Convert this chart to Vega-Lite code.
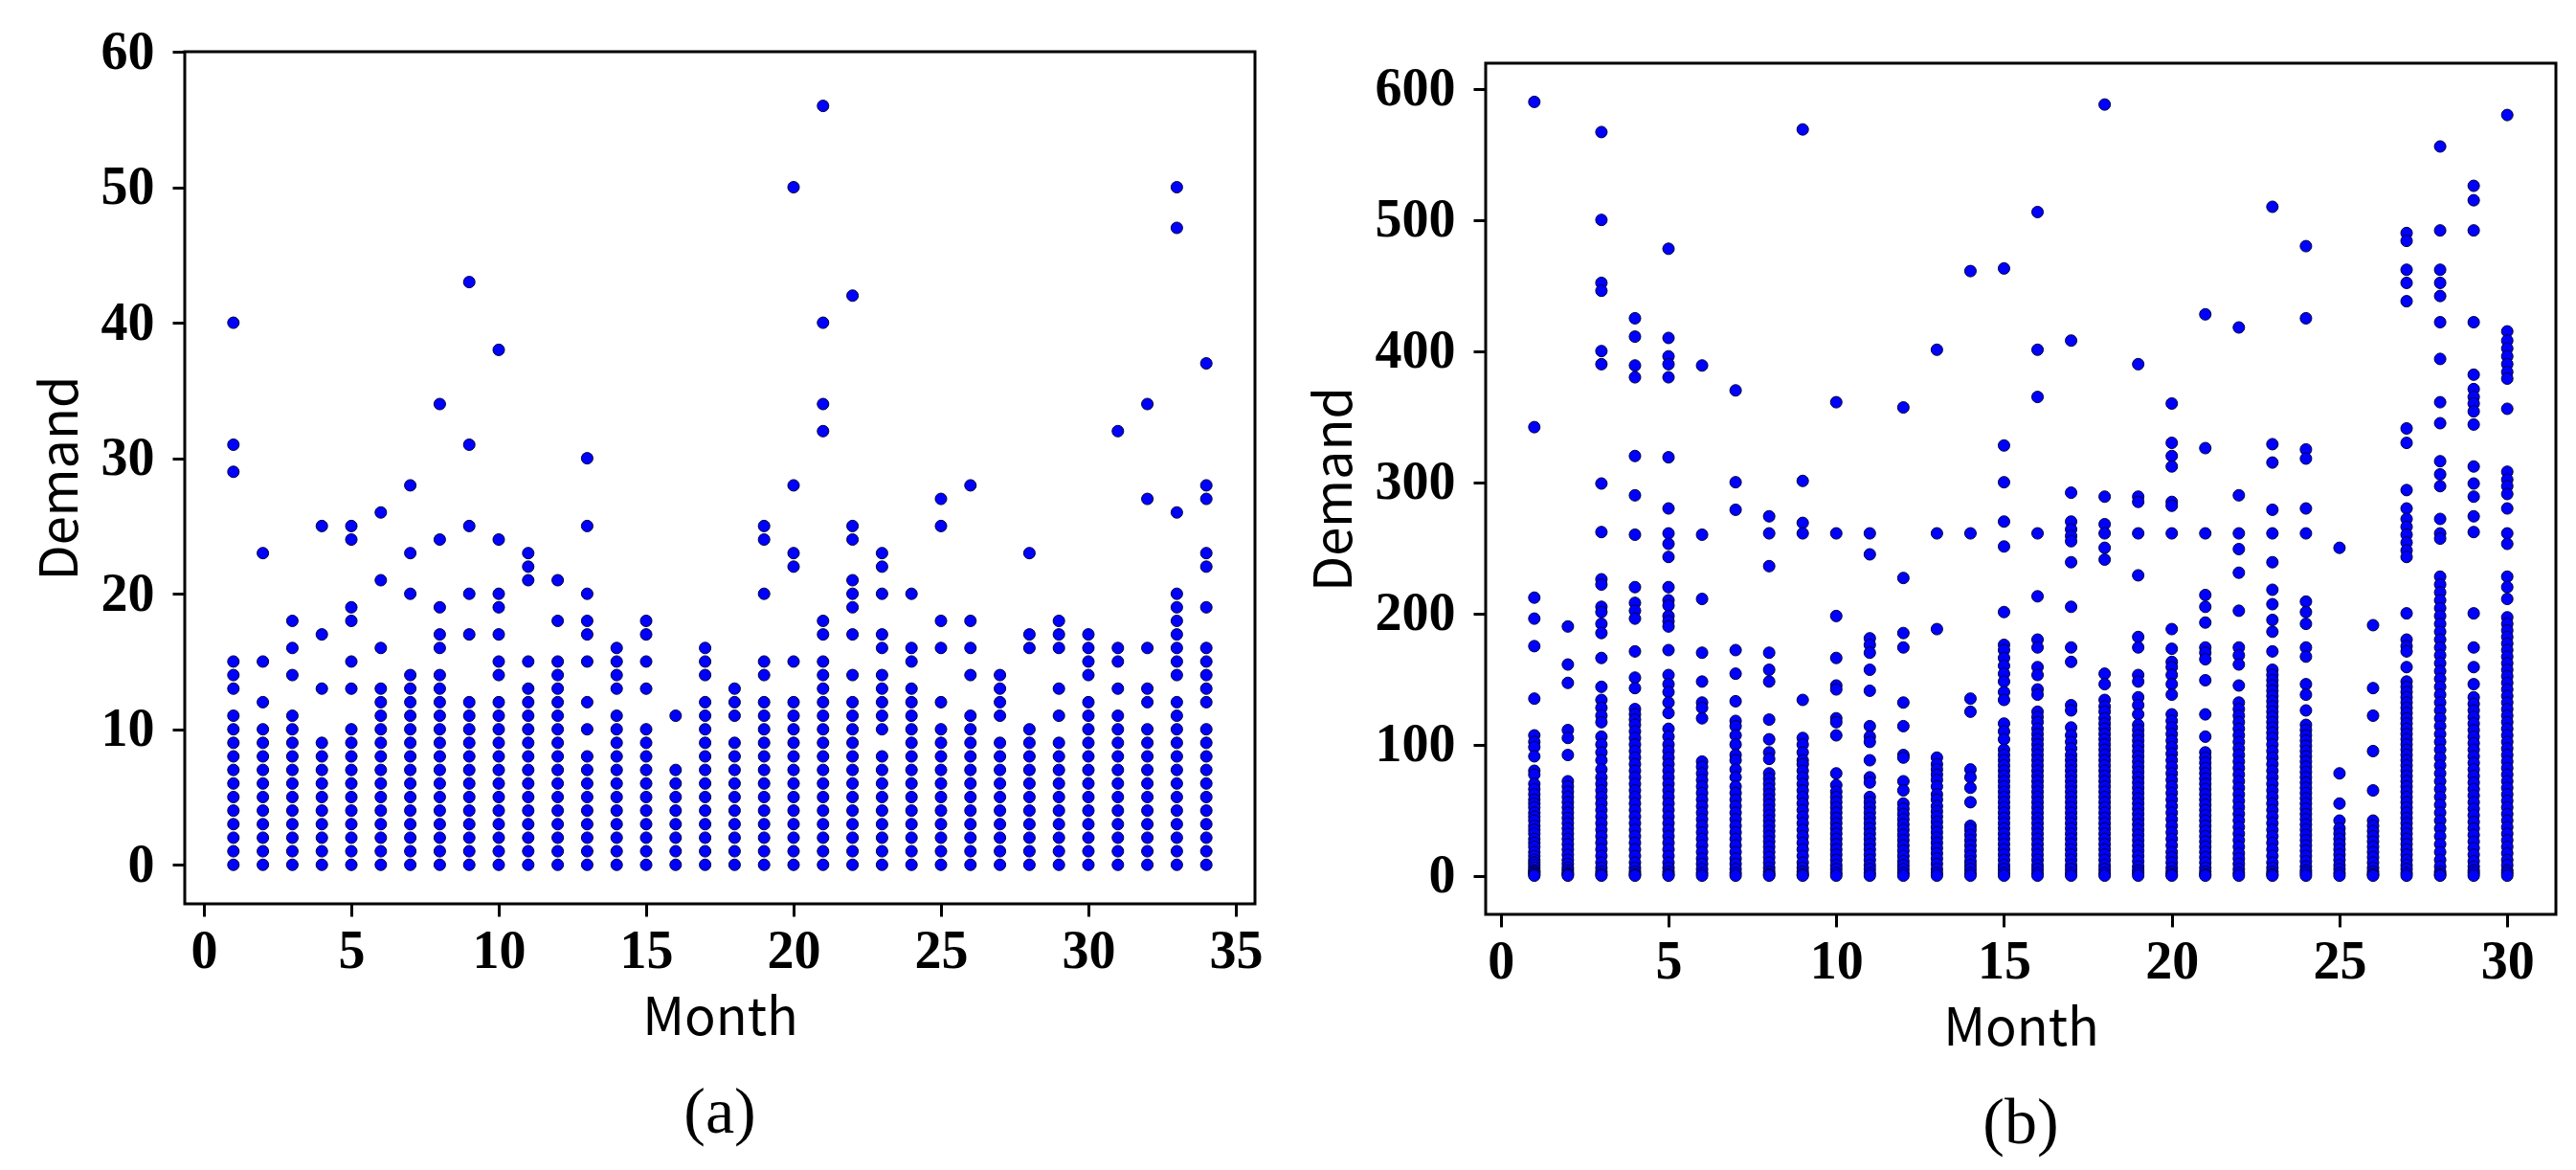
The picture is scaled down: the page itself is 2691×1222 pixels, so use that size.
{
"$schema": "https://vega.github.io/schema/vega-lite/v6.json",
"background": "white",
"padding": {"left": 35, "top": 24, "right": 5, "bottom": 5},
"spacing": 45,
"config": {
 "view": {"stroke": "black", "strokeWidth": 3},
 "axis": {"labelFont": "Liberation Serif", "labelFontWeight": "bold", "labelFontSize": 56, "labelColor": "black", "titleFont": "Noto Sans CJK SC", "titleFontWeight": "normal", "titleFontSize": 54, "titleColor": "black", "grid": false, "domain": false, "tickColor": "black", "tickWidth": 3, "tickSize": 13},
 "axisX": {"labelPadding": 9, "titlePadding": 16},
 "axisY": {"labelPadding": 19, "titlePadding": 14},
 "title": {"font": "Liberation Serif", "fontSize": 68, "fontWeight": "normal", "color": "black", "orient": "bottom", "anchor": "middle", "frame": "group", "offset": 38}
},
"datasets": {
"a": [
{"Month":1,"Demand":0},{"Month":1,"Demand":1},{"Month":1,"Demand":2},{"Month":1,"Demand":3},{"Month":1,"Demand":4},{"Month":1,"Demand":5},{"Month":1,"Demand":6},{"Month":1,"Demand":7},{"Month":1,"Demand":8},{"Month":1,"Demand":9},{"Month":1,"Demand":10},{"Month":1,"Demand":11},{"Month":1,"Demand":13},{"Month":1,"Demand":14},{"Month":1,"Demand":15},{"Month":1,"Demand":29},{"Month":1,"Demand":31},{"Month":1,"Demand":40},
{"Month":2,"Demand":0},{"Month":2,"Demand":1},{"Month":2,"Demand":2},{"Month":2,"Demand":3},{"Month":2,"Demand":4},{"Month":2,"Demand":5},{"Month":2,"Demand":6},{"Month":2,"Demand":7},{"Month":2,"Demand":8},{"Month":2,"Demand":9},{"Month":2,"Demand":10},{"Month":2,"Demand":12},{"Month":2,"Demand":15},{"Month":2,"Demand":23},
{"Month":3,"Demand":0},{"Month":3,"Demand":1},{"Month":3,"Demand":2},{"Month":3,"Demand":3},{"Month":3,"Demand":4},{"Month":3,"Demand":5},{"Month":3,"Demand":6},{"Month":3,"Demand":7},{"Month":3,"Demand":8},{"Month":3,"Demand":9},{"Month":3,"Demand":10},{"Month":3,"Demand":11},{"Month":3,"Demand":14},{"Month":3,"Demand":16},{"Month":3,"Demand":18},
{"Month":4,"Demand":0},{"Month":4,"Demand":1},{"Month":4,"Demand":2},{"Month":4,"Demand":3},{"Month":4,"Demand":4},{"Month":4,"Demand":5},{"Month":4,"Demand":6},{"Month":4,"Demand":7},{"Month":4,"Demand":8},{"Month":4,"Demand":9},{"Month":4,"Demand":13},{"Month":4,"Demand":17},{"Month":4,"Demand":25},
{"Month":5,"Demand":0},{"Month":5,"Demand":1},{"Month":5,"Demand":2},{"Month":5,"Demand":3},{"Month":5,"Demand":4},{"Month":5,"Demand":5},{"Month":5,"Demand":6},{"Month":5,"Demand":7},{"Month":5,"Demand":8},{"Month":5,"Demand":9},{"Month":5,"Demand":10},{"Month":5,"Demand":13},{"Month":5,"Demand":15},{"Month":5,"Demand":18},{"Month":5,"Demand":19},{"Month":5,"Demand":24},{"Month":5,"Demand":25},
{"Month":6,"Demand":0},{"Month":6,"Demand":1},{"Month":6,"Demand":2},{"Month":6,"Demand":3},{"Month":6,"Demand":4},{"Month":6,"Demand":5},{"Month":6,"Demand":6},{"Month":6,"Demand":7},{"Month":6,"Demand":8},{"Month":6,"Demand":9},{"Month":6,"Demand":10},{"Month":6,"Demand":11},{"Month":6,"Demand":12},{"Month":6,"Demand":13},{"Month":6,"Demand":16},{"Month":6,"Demand":21},{"Month":6,"Demand":26},
{"Month":7,"Demand":0},{"Month":7,"Demand":1},{"Month":7,"Demand":2},{"Month":7,"Demand":3},{"Month":7,"Demand":4},{"Month":7,"Demand":5},{"Month":7,"Demand":6},{"Month":7,"Demand":7},{"Month":7,"Demand":8},{"Month":7,"Demand":9},{"Month":7,"Demand":10},{"Month":7,"Demand":11},{"Month":7,"Demand":12},{"Month":7,"Demand":13},{"Month":7,"Demand":14},{"Month":7,"Demand":20},{"Month":7,"Demand":23},{"Month":7,"Demand":28},
{"Month":8,"Demand":0},{"Month":8,"Demand":1},{"Month":8,"Demand":2},{"Month":8,"Demand":3},{"Month":8,"Demand":4},{"Month":8,"Demand":5},{"Month":8,"Demand":6},{"Month":8,"Demand":7},{"Month":8,"Demand":8},{"Month":8,"Demand":9},{"Month":8,"Demand":10},{"Month":8,"Demand":11},{"Month":8,"Demand":12},{"Month":8,"Demand":13},{"Month":8,"Demand":14},{"Month":8,"Demand":16},{"Month":8,"Demand":17},{"Month":8,"Demand":19},{"Month":8,"Demand":24},{"Month":8,"Demand":34},
{"Month":9,"Demand":0},{"Month":9,"Demand":1},{"Month":9,"Demand":2},{"Month":9,"Demand":3},{"Month":9,"Demand":4},{"Month":9,"Demand":5},{"Month":9,"Demand":6},{"Month":9,"Demand":7},{"Month":9,"Demand":8},{"Month":9,"Demand":9},{"Month":9,"Demand":10},{"Month":9,"Demand":11},{"Month":9,"Demand":12},{"Month":9,"Demand":17},{"Month":9,"Demand":20},{"Month":9,"Demand":25},{"Month":9,"Demand":31},{"Month":9,"Demand":43},
{"Month":10,"Demand":0},{"Month":10,"Demand":1},{"Month":10,"Demand":2},{"Month":10,"Demand":3},{"Month":10,"Demand":4},{"Month":10,"Demand":5},{"Month":10,"Demand":6},{"Month":10,"Demand":7},{"Month":10,"Demand":8},{"Month":10,"Demand":9},{"Month":10,"Demand":10},{"Month":10,"Demand":11},{"Month":10,"Demand":12},{"Month":10,"Demand":14},{"Month":10,"Demand":15},{"Month":10,"Demand":17},{"Month":10,"Demand":19},{"Month":10,"Demand":20},{"Month":10,"Demand":24},{"Month":10,"Demand":38},
{"Month":11,"Demand":0},{"Month":11,"Demand":1},{"Month":11,"Demand":2},{"Month":11,"Demand":3},{"Month":11,"Demand":4},{"Month":11,"Demand":5},{"Month":11,"Demand":6},{"Month":11,"Demand":7},{"Month":11,"Demand":8},{"Month":11,"Demand":9},{"Month":11,"Demand":10},{"Month":11,"Demand":11},{"Month":11,"Demand":12},{"Month":11,"Demand":13},{"Month":11,"Demand":15},{"Month":11,"Demand":21},{"Month":11,"Demand":22},{"Month":11,"Demand":23},
{"Month":12,"Demand":0},{"Month":12,"Demand":1},{"Month":12,"Demand":2},{"Month":12,"Demand":3},{"Month":12,"Demand":4},{"Month":12,"Demand":5},{"Month":12,"Demand":6},{"Month":12,"Demand":7},{"Month":12,"Demand":8},{"Month":12,"Demand":9},{"Month":12,"Demand":10},{"Month":12,"Demand":11},{"Month":12,"Demand":12},{"Month":12,"Demand":13},{"Month":12,"Demand":14},{"Month":12,"Demand":15},{"Month":12,"Demand":18},{"Month":12,"Demand":21},
{"Month":13,"Demand":0},{"Month":13,"Demand":1},{"Month":13,"Demand":2},{"Month":13,"Demand":3},{"Month":13,"Demand":4},{"Month":13,"Demand":5},{"Month":13,"Demand":6},{"Month":13,"Demand":7},{"Month":13,"Demand":8},{"Month":13,"Demand":10},{"Month":13,"Demand":12},{"Month":13,"Demand":15},{"Month":13,"Demand":17},{"Month":13,"Demand":18},{"Month":13,"Demand":20},{"Month":13,"Demand":25},{"Month":13,"Demand":30},
{"Month":14,"Demand":0},{"Month":14,"Demand":1},{"Month":14,"Demand":2},{"Month":14,"Demand":3},{"Month":14,"Demand":4},{"Month":14,"Demand":5},{"Month":14,"Demand":6},{"Month":14,"Demand":7},{"Month":14,"Demand":8},{"Month":14,"Demand":9},{"Month":14,"Demand":10},{"Month":14,"Demand":11},{"Month":14,"Demand":13},{"Month":14,"Demand":14},{"Month":14,"Demand":15},{"Month":14,"Demand":16},
{"Month":15,"Demand":0},{"Month":15,"Demand":1},{"Month":15,"Demand":2},{"Month":15,"Demand":3},{"Month":15,"Demand":4},{"Month":15,"Demand":5},{"Month":15,"Demand":6},{"Month":15,"Demand":7},{"Month":15,"Demand":8},{"Month":15,"Demand":9},{"Month":15,"Demand":10},{"Month":15,"Demand":13},{"Month":15,"Demand":15},{"Month":15,"Demand":17},{"Month":15,"Demand":18},
{"Month":16,"Demand":0},{"Month":16,"Demand":1},{"Month":16,"Demand":2},{"Month":16,"Demand":3},{"Month":16,"Demand":4},{"Month":16,"Demand":5},{"Month":16,"Demand":6},{"Month":16,"Demand":7},{"Month":16,"Demand":11},
{"Month":17,"Demand":0},{"Month":17,"Demand":1},{"Month":17,"Demand":2},{"Month":17,"Demand":3},{"Month":17,"Demand":4},{"Month":17,"Demand":5},{"Month":17,"Demand":6},{"Month":17,"Demand":7},{"Month":17,"Demand":8},{"Month":17,"Demand":9},{"Month":17,"Demand":10},{"Month":17,"Demand":11},{"Month":17,"Demand":12},{"Month":17,"Demand":14},{"Month":17,"Demand":15},{"Month":17,"Demand":16},
{"Month":18,"Demand":0},{"Month":18,"Demand":1},{"Month":18,"Demand":2},{"Month":18,"Demand":3},{"Month":18,"Demand":4},{"Month":18,"Demand":5},{"Month":18,"Demand":6},{"Month":18,"Demand":7},{"Month":18,"Demand":8},{"Month":18,"Demand":9},{"Month":18,"Demand":11},{"Month":18,"Demand":12},{"Month":18,"Demand":13},
{"Month":19,"Demand":0},{"Month":19,"Demand":1},{"Month":19,"Demand":2},{"Month":19,"Demand":3},{"Month":19,"Demand":4},{"Month":19,"Demand":5},{"Month":19,"Demand":6},{"Month":19,"Demand":7},{"Month":19,"Demand":8},{"Month":19,"Demand":9},{"Month":19,"Demand":10},{"Month":19,"Demand":11},{"Month":19,"Demand":12},{"Month":19,"Demand":14},{"Month":19,"Demand":15},{"Month":19,"Demand":20},{"Month":19,"Demand":24},{"Month":19,"Demand":25},
{"Month":20,"Demand":0},{"Month":20,"Demand":1},{"Month":20,"Demand":2},{"Month":20,"Demand":3},{"Month":20,"Demand":4},{"Month":20,"Demand":5},{"Month":20,"Demand":6},{"Month":20,"Demand":7},{"Month":20,"Demand":8},{"Month":20,"Demand":9},{"Month":20,"Demand":10},{"Month":20,"Demand":11},{"Month":20,"Demand":12},{"Month":20,"Demand":15},{"Month":20,"Demand":22},{"Month":20,"Demand":23},{"Month":20,"Demand":28},{"Month":20,"Demand":50},
{"Month":21,"Demand":0},{"Month":21,"Demand":1},{"Month":21,"Demand":2},{"Month":21,"Demand":3},{"Month":21,"Demand":4},{"Month":21,"Demand":5},{"Month":21,"Demand":6},{"Month":21,"Demand":7},{"Month":21,"Demand":8},{"Month":21,"Demand":9},{"Month":21,"Demand":10},{"Month":21,"Demand":11},{"Month":21,"Demand":12},{"Month":21,"Demand":13},{"Month":21,"Demand":14},{"Month":21,"Demand":15},{"Month":21,"Demand":17},{"Month":21,"Demand":18},{"Month":21,"Demand":32},{"Month":21,"Demand":34},{"Month":21,"Demand":40},{"Month":21,"Demand":56},
{"Month":22,"Demand":0},{"Month":22,"Demand":1},{"Month":22,"Demand":2},{"Month":22,"Demand":3},{"Month":22,"Demand":4},{"Month":22,"Demand":5},{"Month":22,"Demand":6},{"Month":22,"Demand":7},{"Month":22,"Demand":8},{"Month":22,"Demand":9},{"Month":22,"Demand":10},{"Month":22,"Demand":11},{"Month":22,"Demand":12},{"Month":22,"Demand":14},{"Month":22,"Demand":17},{"Month":22,"Demand":19},{"Month":22,"Demand":20},{"Month":22,"Demand":21},{"Month":22,"Demand":24},{"Month":22,"Demand":25},{"Month":22,"Demand":42},
{"Month":23,"Demand":0},{"Month":23,"Demand":1},{"Month":23,"Demand":2},{"Month":23,"Demand":3},{"Month":23,"Demand":4},{"Month":23,"Demand":5},{"Month":23,"Demand":6},{"Month":23,"Demand":7},{"Month":23,"Demand":8},{"Month":23,"Demand":10},{"Month":23,"Demand":11},{"Month":23,"Demand":12},{"Month":23,"Demand":13},{"Month":23,"Demand":14},{"Month":23,"Demand":16},{"Month":23,"Demand":17},{"Month":23,"Demand":20},{"Month":23,"Demand":22},{"Month":23,"Demand":23},
{"Month":24,"Demand":0},{"Month":24,"Demand":1},{"Month":24,"Demand":2},{"Month":24,"Demand":3},{"Month":24,"Demand":4},{"Month":24,"Demand":5},{"Month":24,"Demand":6},{"Month":24,"Demand":7},{"Month":24,"Demand":8},{"Month":24,"Demand":9},{"Month":24,"Demand":10},{"Month":24,"Demand":11},{"Month":24,"Demand":12},{"Month":24,"Demand":13},{"Month":24,"Demand":15},{"Month":24,"Demand":16},{"Month":24,"Demand":20},
{"Month":25,"Demand":0},{"Month":25,"Demand":1},{"Month":25,"Demand":2},{"Month":25,"Demand":3},{"Month":25,"Demand":4},{"Month":25,"Demand":5},{"Month":25,"Demand":6},{"Month":25,"Demand":7},{"Month":25,"Demand":8},{"Month":25,"Demand":9},{"Month":25,"Demand":10},{"Month":25,"Demand":12},{"Month":25,"Demand":16},{"Month":25,"Demand":18},{"Month":25,"Demand":25},{"Month":25,"Demand":27},
{"Month":26,"Demand":0},{"Month":26,"Demand":1},{"Month":26,"Demand":2},{"Month":26,"Demand":3},{"Month":26,"Demand":4},{"Month":26,"Demand":5},{"Month":26,"Demand":6},{"Month":26,"Demand":7},{"Month":26,"Demand":8},{"Month":26,"Demand":9},{"Month":26,"Demand":10},{"Month":26,"Demand":11},{"Month":26,"Demand":14},{"Month":26,"Demand":16},{"Month":26,"Demand":18},{"Month":26,"Demand":28},
{"Month":27,"Demand":0},{"Month":27,"Demand":1},{"Month":27,"Demand":2},{"Month":27,"Demand":3},{"Month":27,"Demand":4},{"Month":27,"Demand":5},{"Month":27,"Demand":6},{"Month":27,"Demand":7},{"Month":27,"Demand":8},{"Month":27,"Demand":9},{"Month":27,"Demand":11},{"Month":27,"Demand":12},{"Month":27,"Demand":13},{"Month":27,"Demand":14},
{"Month":28,"Demand":0},{"Month":28,"Demand":1},{"Month":28,"Demand":2},{"Month":28,"Demand":3},{"Month":28,"Demand":4},{"Month":28,"Demand":5},{"Month":28,"Demand":6},{"Month":28,"Demand":7},{"Month":28,"Demand":8},{"Month":28,"Demand":9},{"Month":28,"Demand":10},{"Month":28,"Demand":16},{"Month":28,"Demand":17},{"Month":28,"Demand":23},
{"Month":29,"Demand":0},{"Month":29,"Demand":1},{"Month":29,"Demand":2},{"Month":29,"Demand":3},{"Month":29,"Demand":4},{"Month":29,"Demand":5},{"Month":29,"Demand":6},{"Month":29,"Demand":7},{"Month":29,"Demand":8},{"Month":29,"Demand":9},{"Month":29,"Demand":11},{"Month":29,"Demand":13},{"Month":29,"Demand":16},{"Month":29,"Demand":17},{"Month":29,"Demand":18},
{"Month":30,"Demand":0},{"Month":30,"Demand":1},{"Month":30,"Demand":2},{"Month":30,"Demand":3},{"Month":30,"Demand":4},{"Month":30,"Demand":5},{"Month":30,"Demand":6},{"Month":30,"Demand":7},{"Month":30,"Demand":8},{"Month":30,"Demand":9},{"Month":30,"Demand":10},{"Month":30,"Demand":11},{"Month":30,"Demand":12},{"Month":30,"Demand":14},{"Month":30,"Demand":15},{"Month":30,"Demand":16},{"Month":30,"Demand":17},
{"Month":31,"Demand":0},{"Month":31,"Demand":1},{"Month":31,"Demand":2},{"Month":31,"Demand":3},{"Month":31,"Demand":4},{"Month":31,"Demand":5},{"Month":31,"Demand":6},{"Month":31,"Demand":7},{"Month":31,"Demand":8},{"Month":31,"Demand":9},{"Month":31,"Demand":10},{"Month":31,"Demand":11},{"Month":31,"Demand":13},{"Month":31,"Demand":15},{"Month":31,"Demand":16},{"Month":31,"Demand":32},
{"Month":32,"Demand":0},{"Month":32,"Demand":1},{"Month":32,"Demand":2},{"Month":32,"Demand":3},{"Month":32,"Demand":4},{"Month":32,"Demand":5},{"Month":32,"Demand":6},{"Month":32,"Demand":7},{"Month":32,"Demand":8},{"Month":32,"Demand":9},{"Month":32,"Demand":10},{"Month":32,"Demand":12},{"Month":32,"Demand":13},{"Month":32,"Demand":16},{"Month":32,"Demand":27},{"Month":32,"Demand":34},
{"Month":33,"Demand":0},{"Month":33,"Demand":1},{"Month":33,"Demand":2},{"Month":33,"Demand":3},{"Month":33,"Demand":4},{"Month":33,"Demand":5},{"Month":33,"Demand":6},{"Month":33,"Demand":7},{"Month":33,"Demand":8},{"Month":33,"Demand":9},{"Month":33,"Demand":10},{"Month":33,"Demand":11},{"Month":33,"Demand":12},{"Month":33,"Demand":14},{"Month":33,"Demand":15},{"Month":33,"Demand":16},{"Month":33,"Demand":17},{"Month":33,"Demand":18},{"Month":33,"Demand":19},{"Month":33,"Demand":20},{"Month":33,"Demand":26},{"Month":33,"Demand":47},{"Month":33,"Demand":50},
{"Month":34,"Demand":0},{"Month":34,"Demand":1},{"Month":34,"Demand":2},{"Month":34,"Demand":3},{"Month":34,"Demand":4},{"Month":34,"Demand":5},{"Month":34,"Demand":6},{"Month":34,"Demand":7},{"Month":34,"Demand":8},{"Month":34,"Demand":9},{"Month":34,"Demand":10},{"Month":34,"Demand":12},{"Month":34,"Demand":13},{"Month":34,"Demand":14},{"Month":34,"Demand":15},{"Month":34,"Demand":16},{"Month":34,"Demand":19},{"Month":34,"Demand":22},{"Month":34,"Demand":23},{"Month":34,"Demand":27},{"Month":34,"Demand":28},{"Month":34,"Demand":37}
],
"b": [
{"Month":1,"Demand":590},{"Month":1,"Demand":342},{"Month":1,"Demand":212},{"Month":1,"Demand":196},{"Month":1,"Demand":175},{"Month":1,"Demand":135},{"Month":1,"Demand":107},{"Month":1,"Demand":102},{"Month":1,"Demand":98},{"Month":1,"Demand":91},{"Month":1,"Demand":80},{"Month":1,"Demand":77},{"Month":1,"Demand":70},{"Month":1,"Demand":66},{"Month":1,"Demand":62},{"Month":1,"Demand":58},{"Month":1,"Demand":55},{"Month":1,"Demand":52},{"Month":1,"Demand":48},{"Month":1,"Demand":45},{"Month":1,"Demand":42},{"Month":1,"Demand":38},{"Month":1,"Demand":35},{"Month":1,"Demand":32},{"Month":1,"Demand":28},{"Month":1,"Demand":25},{"Month":1,"Demand":22},{"Month":1,"Demand":18},{"Month":1,"Demand":15},{"Month":1,"Demand":12},{"Month":1,"Demand":10},{"Month":1,"Demand":8},{"Month":1,"Demand":6},{"Month":1,"Demand":4},{"Month":1,"Demand":3},{"Month":1,"Demand":2},{"Month":1,"Demand":1},{"Month":1,"Demand":0},
{"Month":2,"Demand":190},{"Month":2,"Demand":161},{"Month":2,"Demand":147},{"Month":2,"Demand":111},{"Month":2,"Demand":105},{"Month":2,"Demand":92},{"Month":2,"Demand":72},{"Month":2,"Demand":68},{"Month":2,"Demand":64},{"Month":2,"Demand":60},{"Month":2,"Demand":56},{"Month":2,"Demand":52},{"Month":2,"Demand":48},{"Month":2,"Demand":44},{"Month":2,"Demand":40},{"Month":2,"Demand":36},{"Month":2,"Demand":32},{"Month":2,"Demand":28},{"Month":2,"Demand":24},{"Month":2,"Demand":20},{"Month":2,"Demand":16},{"Month":2,"Demand":12},{"Month":2,"Demand":9},{"Month":2,"Demand":6},{"Month":2,"Demand":4},{"Month":2,"Demand":2},{"Month":2,"Demand":1},{"Month":2,"Demand":0},
{"Month":3,"Demand":567},{"Month":3,"Demand":500},{"Month":3,"Demand":452},{"Month":3,"Demand":446},{"Month":3,"Demand":400},{"Month":3,"Demand":390},{"Month":3,"Demand":299},{"Month":3,"Demand":262},{"Month":3,"Demand":226},{"Month":3,"Demand":222},{"Month":3,"Demand":205},{"Month":3,"Demand":201},{"Month":3,"Demand":192},{"Month":3,"Demand":185},{"Month":3,"Demand":166},{"Month":3,"Demand":144},{"Month":3,"Demand":134},{"Month":3,"Demand":128},{"Month":3,"Demand":122},{"Month":3,"Demand":117},{"Month":3,"Demand":106},{"Month":3,"Demand":100},{"Month":3,"Demand":94},{"Month":3,"Demand":88},{"Month":3,"Demand":81},{"Month":3,"Demand":75},{"Month":3,"Demand":70},{"Month":3,"Demand":65},{"Month":3,"Demand":60},{"Month":3,"Demand":55},{"Month":3,"Demand":50},{"Month":3,"Demand":45},{"Month":3,"Demand":40},{"Month":3,"Demand":35},{"Month":3,"Demand":30},{"Month":3,"Demand":25},{"Month":3,"Demand":20},{"Month":3,"Demand":15},{"Month":3,"Demand":10},{"Month":3,"Demand":6},{"Month":3,"Demand":3},{"Month":3,"Demand":1},{"Month":3,"Demand":0},
{"Month":4,"Demand":425},{"Month":4,"Demand":411},{"Month":4,"Demand":389},{"Month":4,"Demand":380},{"Month":4,"Demand":320},{"Month":4,"Demand":290},{"Month":4,"Demand":260},{"Month":4,"Demand":220},{"Month":4,"Demand":208},{"Month":4,"Demand":202},{"Month":4,"Demand":196},{"Month":4,"Demand":171},{"Month":4,"Demand":151},{"Month":4,"Demand":143},{"Month":4,"Demand":127},{"Month":4,"Demand":123},{"Month":4,"Demand":119},{"Month":4,"Demand":115},{"Month":4,"Demand":110},{"Month":4,"Demand":105},{"Month":4,"Demand":100},{"Month":4,"Demand":95},{"Month":4,"Demand":90},{"Month":4,"Demand":85},{"Month":4,"Demand":80},{"Month":4,"Demand":75},{"Month":4,"Demand":70},{"Month":4,"Demand":65},{"Month":4,"Demand":60},{"Month":4,"Demand":55},{"Month":4,"Demand":50},{"Month":4,"Demand":45},{"Month":4,"Demand":40},{"Month":4,"Demand":35},{"Month":4,"Demand":30},{"Month":4,"Demand":25},{"Month":4,"Demand":20},{"Month":4,"Demand":15},{"Month":4,"Demand":10},{"Month":4,"Demand":6},{"Month":4,"Demand":3},{"Month":4,"Demand":1},{"Month":4,"Demand":0},
{"Month":5,"Demand":478},{"Month":5,"Demand":410},{"Month":5,"Demand":396},{"Month":5,"Demand":390},{"Month":5,"Demand":380},{"Month":5,"Demand":319},{"Month":5,"Demand":280},{"Month":5,"Demand":261},{"Month":5,"Demand":253},{"Month":5,"Demand":243},{"Month":5,"Demand":220},{"Month":5,"Demand":210},{"Month":5,"Demand":206},{"Month":5,"Demand":198},{"Month":5,"Demand":194},{"Month":5,"Demand":190},{"Month":5,"Demand":172},{"Month":5,"Demand":153},{"Month":5,"Demand":146},{"Month":5,"Demand":140},{"Month":5,"Demand":132},{"Month":5,"Demand":124},{"Month":5,"Demand":112},{"Month":5,"Demand":106},{"Month":5,"Demand":100},{"Month":5,"Demand":95},{"Month":5,"Demand":90},{"Month":5,"Demand":85},{"Month":5,"Demand":80},{"Month":5,"Demand":75},{"Month":5,"Demand":70},{"Month":5,"Demand":65},{"Month":5,"Demand":60},{"Month":5,"Demand":55},{"Month":5,"Demand":50},{"Month":5,"Demand":45},{"Month":5,"Demand":40},{"Month":5,"Demand":35},{"Month":5,"Demand":30},{"Month":5,"Demand":25},{"Month":5,"Demand":20},{"Month":5,"Demand":15},{"Month":5,"Demand":10},{"Month":5,"Demand":6},{"Month":5,"Demand":3},{"Month":5,"Demand":1},{"Month":5,"Demand":0},
{"Month":6,"Demand":389},{"Month":6,"Demand":260},{"Month":6,"Demand":211},{"Month":6,"Demand":170},{"Month":6,"Demand":148},{"Month":6,"Demand":132},{"Month":6,"Demand":128},{"Month":6,"Demand":120},{"Month":6,"Demand":87},{"Month":6,"Demand":83},{"Month":6,"Demand":78},{"Month":6,"Demand":73},{"Month":6,"Demand":68},{"Month":6,"Demand":63},{"Month":6,"Demand":58},{"Month":6,"Demand":53},{"Month":6,"Demand":48},{"Month":6,"Demand":43},{"Month":6,"Demand":38},{"Month":6,"Demand":33},{"Month":6,"Demand":28},{"Month":6,"Demand":23},{"Month":6,"Demand":18},{"Month":6,"Demand":13},{"Month":6,"Demand":9},{"Month":6,"Demand":5},{"Month":6,"Demand":2},{"Month":6,"Demand":0},
{"Month":7,"Demand":370},{"Month":7,"Demand":300},{"Month":7,"Demand":279},{"Month":7,"Demand":172},{"Month":7,"Demand":154},{"Month":7,"Demand":133},{"Month":7,"Demand":118},{"Month":7,"Demand":114},{"Month":7,"Demand":107},{"Month":7,"Demand":100},{"Month":7,"Demand":92},{"Month":7,"Demand":88},{"Month":7,"Demand":81},{"Month":7,"Demand":75},{"Month":7,"Demand":68},{"Month":7,"Demand":63},{"Month":7,"Demand":58},{"Month":7,"Demand":53},{"Month":7,"Demand":48},{"Month":7,"Demand":43},{"Month":7,"Demand":38},{"Month":7,"Demand":33},{"Month":7,"Demand":28},{"Month":7,"Demand":23},{"Month":7,"Demand":18},{"Month":7,"Demand":13},{"Month":7,"Demand":9},{"Month":7,"Demand":5},{"Month":7,"Demand":2},{"Month":7,"Demand":0},
{"Month":8,"Demand":274},{"Month":8,"Demand":261},{"Month":8,"Demand":236},{"Month":8,"Demand":170},{"Month":8,"Demand":157},{"Month":8,"Demand":148},{"Month":8,"Demand":119},{"Month":8,"Demand":104},{"Month":8,"Demand":94},{"Month":8,"Demand":89},{"Month":8,"Demand":78},{"Month":8,"Demand":74},{"Month":8,"Demand":70},{"Month":8,"Demand":66},{"Month":8,"Demand":62},{"Month":8,"Demand":58},{"Month":8,"Demand":54},{"Month":8,"Demand":50},{"Month":8,"Demand":46},{"Month":8,"Demand":42},{"Month":8,"Demand":38},{"Month":8,"Demand":34},{"Month":8,"Demand":30},{"Month":8,"Demand":26},{"Month":8,"Demand":22},{"Month":8,"Demand":18},{"Month":8,"Demand":14},{"Month":8,"Demand":10},{"Month":8,"Demand":6},{"Month":8,"Demand":3},{"Month":8,"Demand":1},{"Month":8,"Demand":0},
{"Month":9,"Demand":569},{"Month":9,"Demand":301},{"Month":9,"Demand":269},{"Month":9,"Demand":261},{"Month":9,"Demand":134},{"Month":9,"Demand":105},{"Month":9,"Demand":100},{"Month":9,"Demand":94},{"Month":9,"Demand":88},{"Month":9,"Demand":85},{"Month":9,"Demand":80},{"Month":9,"Demand":75},{"Month":9,"Demand":70},{"Month":9,"Demand":65},{"Month":9,"Demand":60},{"Month":9,"Demand":55},{"Month":9,"Demand":50},{"Month":9,"Demand":45},{"Month":9,"Demand":40},{"Month":9,"Demand":35},{"Month":9,"Demand":30},{"Month":9,"Demand":25},{"Month":9,"Demand":20},{"Month":9,"Demand":15},{"Month":9,"Demand":10},{"Month":9,"Demand":6},{"Month":9,"Demand":3},{"Month":9,"Demand":1},{"Month":9,"Demand":0},
{"Month":10,"Demand":361},{"Month":10,"Demand":261},{"Month":10,"Demand":198},{"Month":10,"Demand":166},{"Month":10,"Demand":145},{"Month":10,"Demand":142},{"Month":10,"Demand":120},{"Month":10,"Demand":117},{"Month":10,"Demand":107},{"Month":10,"Demand":78},{"Month":10,"Demand":69},{"Month":10,"Demand":64},{"Month":10,"Demand":60},{"Month":10,"Demand":56},{"Month":10,"Demand":52},{"Month":10,"Demand":48},{"Month":10,"Demand":44},{"Month":10,"Demand":40},{"Month":10,"Demand":36},{"Month":10,"Demand":32},{"Month":10,"Demand":28},{"Month":10,"Demand":24},{"Month":10,"Demand":20},{"Month":10,"Demand":16},{"Month":10,"Demand":12},{"Month":10,"Demand":8},{"Month":10,"Demand":5},{"Month":10,"Demand":2},{"Month":10,"Demand":0},
{"Month":11,"Demand":261},{"Month":11,"Demand":245},{"Month":11,"Demand":181},{"Month":11,"Demand":176},{"Month":11,"Demand":170},{"Month":11,"Demand":157},{"Month":11,"Demand":141},{"Month":11,"Demand":114},{"Month":11,"Demand":106},{"Month":11,"Demand":102},{"Month":11,"Demand":88},{"Month":11,"Demand":75},{"Month":11,"Demand":71},{"Month":11,"Demand":60},{"Month":11,"Demand":56},{"Month":11,"Demand":52},{"Month":11,"Demand":48},{"Month":11,"Demand":44},{"Month":11,"Demand":40},{"Month":11,"Demand":36},{"Month":11,"Demand":32},{"Month":11,"Demand":28},{"Month":11,"Demand":24},{"Month":11,"Demand":20},{"Month":11,"Demand":16},{"Month":11,"Demand":12},{"Month":11,"Demand":8},{"Month":11,"Demand":5},{"Month":11,"Demand":2},{"Month":11,"Demand":0},
{"Month":12,"Demand":357},{"Month":12,"Demand":227},{"Month":12,"Demand":185},{"Month":12,"Demand":174},{"Month":12,"Demand":132},{"Month":12,"Demand":114},{"Month":12,"Demand":92},{"Month":12,"Demand":90},{"Month":12,"Demand":72},{"Month":12,"Demand":65},{"Month":12,"Demand":55},{"Month":12,"Demand":51},{"Month":12,"Demand":47},{"Month":12,"Demand":43},{"Month":12,"Demand":39},{"Month":12,"Demand":35},{"Month":12,"Demand":31},{"Month":12,"Demand":27},{"Month":12,"Demand":23},{"Month":12,"Demand":19},{"Month":12,"Demand":15},{"Month":12,"Demand":11},{"Month":12,"Demand":8},{"Month":12,"Demand":5},{"Month":12,"Demand":2},{"Month":12,"Demand":0},
{"Month":13,"Demand":401},{"Month":13,"Demand":261},{"Month":13,"Demand":188},{"Month":13,"Demand":90},{"Month":13,"Demand":85},{"Month":13,"Demand":81},{"Month":13,"Demand":77},{"Month":13,"Demand":73},{"Month":13,"Demand":68},{"Month":13,"Demand":62},{"Month":13,"Demand":58},{"Month":13,"Demand":53},{"Month":13,"Demand":49},{"Month":13,"Demand":45},{"Month":13,"Demand":41},{"Month":13,"Demand":37},{"Month":13,"Demand":33},{"Month":13,"Demand":29},{"Month":13,"Demand":25},{"Month":13,"Demand":21},{"Month":13,"Demand":17},{"Month":13,"Demand":13},{"Month":13,"Demand":9},{"Month":13,"Demand":5},{"Month":13,"Demand":2},{"Month":13,"Demand":0},
{"Month":14,"Demand":461},{"Month":14,"Demand":261},{"Month":14,"Demand":135},{"Month":14,"Demand":125},{"Month":14,"Demand":81},{"Month":14,"Demand":75},{"Month":14,"Demand":67},{"Month":14,"Demand":56},{"Month":14,"Demand":38},{"Month":14,"Demand":35},{"Month":14,"Demand":31},{"Month":14,"Demand":27},{"Month":14,"Demand":23},{"Month":14,"Demand":19},{"Month":14,"Demand":15},{"Month":14,"Demand":11},{"Month":14,"Demand":8},{"Month":14,"Demand":5},{"Month":14,"Demand":2},{"Month":14,"Demand":0},
{"Month":15,"Demand":463},{"Month":15,"Demand":328},{"Month":15,"Demand":300},{"Month":15,"Demand":270},{"Month":15,"Demand":251},{"Month":15,"Demand":201},{"Month":15,"Demand":176},{"Month":15,"Demand":172},{"Month":15,"Demand":166},{"Month":15,"Demand":160},{"Month":15,"Demand":154},{"Month":15,"Demand":148},{"Month":15,"Demand":140},{"Month":15,"Demand":134},{"Month":15,"Demand":116},{"Month":15,"Demand":110},{"Month":15,"Demand":104},{"Month":15,"Demand":96},{"Month":15,"Demand":92},{"Month":15,"Demand":88},{"Month":15,"Demand":84},{"Month":15,"Demand":80},{"Month":15,"Demand":76},{"Month":15,"Demand":72},{"Month":15,"Demand":68},{"Month":15,"Demand":64},{"Month":15,"Demand":60},{"Month":15,"Demand":56},{"Month":15,"Demand":52},{"Month":15,"Demand":48},{"Month":15,"Demand":44},{"Month":15,"Demand":40},{"Month":15,"Demand":36},{"Month":15,"Demand":32},{"Month":15,"Demand":28},{"Month":15,"Demand":24},{"Month":15,"Demand":20},{"Month":15,"Demand":16},{"Month":15,"Demand":12},{"Month":15,"Demand":8},{"Month":15,"Demand":5},{"Month":15,"Demand":2},{"Month":15,"Demand":0},
{"Month":16,"Demand":506},{"Month":16,"Demand":401},{"Month":16,"Demand":365},{"Month":16,"Demand":261},{"Month":16,"Demand":213},{"Month":16,"Demand":180},{"Month":16,"Demand":174},{"Month":16,"Demand":159},{"Month":16,"Demand":153},{"Month":16,"Demand":142},{"Month":16,"Demand":138},{"Month":16,"Demand":125},{"Month":16,"Demand":121},{"Month":16,"Demand":117},{"Month":16,"Demand":112},{"Month":16,"Demand":108},{"Month":16,"Demand":104},{"Month":16,"Demand":100},{"Month":16,"Demand":96},{"Month":16,"Demand":92},{"Month":16,"Demand":88},{"Month":16,"Demand":84},{"Month":16,"Demand":80},{"Month":16,"Demand":76},{"Month":16,"Demand":72},{"Month":16,"Demand":68},{"Month":16,"Demand":64},{"Month":16,"Demand":60},{"Month":16,"Demand":56},{"Month":16,"Demand":52},{"Month":16,"Demand":48},{"Month":16,"Demand":44},{"Month":16,"Demand":40},{"Month":16,"Demand":36},{"Month":16,"Demand":32},{"Month":16,"Demand":28},{"Month":16,"Demand":24},{"Month":16,"Demand":20},{"Month":16,"Demand":16},{"Month":16,"Demand":12},{"Month":16,"Demand":8},{"Month":16,"Demand":5},{"Month":16,"Demand":2},{"Month":16,"Demand":0},
{"Month":17,"Demand":408},{"Month":17,"Demand":292},{"Month":17,"Demand":270},{"Month":17,"Demand":264},{"Month":17,"Demand":259},{"Month":17,"Demand":255},{"Month":17,"Demand":239},{"Month":17,"Demand":205},{"Month":17,"Demand":174},{"Month":17,"Demand":163},{"Month":17,"Demand":130},{"Month":17,"Demand":126},{"Month":17,"Demand":113},{"Month":17,"Demand":107},{"Month":17,"Demand":102},{"Month":17,"Demand":97},{"Month":17,"Demand":92},{"Month":17,"Demand":88},{"Month":17,"Demand":84},{"Month":17,"Demand":80},{"Month":17,"Demand":76},{"Month":17,"Demand":72},{"Month":17,"Demand":68},{"Month":17,"Demand":64},{"Month":17,"Demand":60},{"Month":17,"Demand":56},{"Month":17,"Demand":52},{"Month":17,"Demand":48},{"Month":17,"Demand":44},{"Month":17,"Demand":40},{"Month":17,"Demand":36},{"Month":17,"Demand":32},{"Month":17,"Demand":28},{"Month":17,"Demand":24},{"Month":17,"Demand":20},{"Month":17,"Demand":16},{"Month":17,"Demand":12},{"Month":17,"Demand":8},{"Month":17,"Demand":5},{"Month":17,"Demand":2},{"Month":17,"Demand":0},
{"Month":18,"Demand":588},{"Month":18,"Demand":289},{"Month":18,"Demand":268},{"Month":18,"Demand":261},{"Month":18,"Demand":250},{"Month":18,"Demand":241},{"Month":18,"Demand":154},{"Month":18,"Demand":146},{"Month":18,"Demand":134},{"Month":18,"Demand":129},{"Month":18,"Demand":125},{"Month":18,"Demand":120},{"Month":18,"Demand":116},{"Month":18,"Demand":112},{"Month":18,"Demand":108},{"Month":18,"Demand":104},{"Month":18,"Demand":100},{"Month":18,"Demand":96},{"Month":18,"Demand":92},{"Month":18,"Demand":88},{"Month":18,"Demand":84},{"Month":18,"Demand":80},{"Month":18,"Demand":76},{"Month":18,"Demand":72},{"Month":18,"Demand":68},{"Month":18,"Demand":64},{"Month":18,"Demand":60},{"Month":18,"Demand":56},{"Month":18,"Demand":52},{"Month":18,"Demand":48},{"Month":18,"Demand":44},{"Month":18,"Demand":40},{"Month":18,"Demand":36},{"Month":18,"Demand":32},{"Month":18,"Demand":28},{"Month":18,"Demand":24},{"Month":18,"Demand":20},{"Month":18,"Demand":16},{"Month":18,"Demand":12},{"Month":18,"Demand":8},{"Month":18,"Demand":5},{"Month":18,"Demand":2},{"Month":18,"Demand":0},
{"Month":19,"Demand":390},{"Month":19,"Demand":289},{"Month":19,"Demand":285},{"Month":19,"Demand":261},{"Month":19,"Demand":229},{"Month":19,"Demand":182},{"Month":19,"Demand":174},{"Month":19,"Demand":153},{"Month":19,"Demand":148},{"Month":19,"Demand":136},{"Month":19,"Demand":130},{"Month":19,"Demand":123},{"Month":19,"Demand":115},{"Month":19,"Demand":111},{"Month":19,"Demand":107},{"Month":19,"Demand":103},{"Month":19,"Demand":99},{"Month":19,"Demand":95},{"Month":19,"Demand":91},{"Month":19,"Demand":87},{"Month":19,"Demand":83},{"Month":19,"Demand":79},{"Month":19,"Demand":75},{"Month":19,"Demand":71},{"Month":19,"Demand":67},{"Month":19,"Demand":63},{"Month":19,"Demand":59},{"Month":19,"Demand":55},{"Month":19,"Demand":51},{"Month":19,"Demand":47},{"Month":19,"Demand":43},{"Month":19,"Demand":39},{"Month":19,"Demand":35},{"Month":19,"Demand":31},{"Month":19,"Demand":27},{"Month":19,"Demand":23},{"Month":19,"Demand":19},{"Month":19,"Demand":15},{"Month":19,"Demand":11},{"Month":19,"Demand":7},{"Month":19,"Demand":4},{"Month":19,"Demand":2},{"Month":19,"Demand":0},
{"Month":20,"Demand":360},{"Month":20,"Demand":330},{"Month":20,"Demand":320},{"Month":20,"Demand":312},{"Month":20,"Demand":285},{"Month":20,"Demand":282},{"Month":20,"Demand":261},{"Month":20,"Demand":188},{"Month":20,"Demand":173},{"Month":20,"Demand":163},{"Month":20,"Demand":159},{"Month":20,"Demand":153},{"Month":20,"Demand":146},{"Month":20,"Demand":138},{"Month":20,"Demand":123},{"Month":20,"Demand":118},{"Month":20,"Demand":113},{"Month":20,"Demand":108},{"Month":20,"Demand":103},{"Month":20,"Demand":98},{"Month":20,"Demand":93},{"Month":20,"Demand":88},{"Month":20,"Demand":83},{"Month":20,"Demand":78},{"Month":20,"Demand":73},{"Month":20,"Demand":68},{"Month":20,"Demand":63},{"Month":20,"Demand":58},{"Month":20,"Demand":53},{"Month":20,"Demand":48},{"Month":20,"Demand":43},{"Month":20,"Demand":38},{"Month":20,"Demand":33},{"Month":20,"Demand":28},{"Month":20,"Demand":23},{"Month":20,"Demand":18},{"Month":20,"Demand":14},{"Month":20,"Demand":10},{"Month":20,"Demand":6},{"Month":20,"Demand":3},{"Month":20,"Demand":1},{"Month":20,"Demand":0},
{"Month":21,"Demand":428},{"Month":21,"Demand":326},{"Month":21,"Demand":261},{"Month":21,"Demand":214},{"Month":21,"Demand":205},{"Month":21,"Demand":193},{"Month":21,"Demand":174},{"Month":21,"Demand":170},{"Month":21,"Demand":165},{"Month":21,"Demand":149},{"Month":21,"Demand":123},{"Month":21,"Demand":106},{"Month":21,"Demand":94},{"Month":21,"Demand":90},{"Month":21,"Demand":86},{"Month":21,"Demand":82},{"Month":21,"Demand":78},{"Month":21,"Demand":74},{"Month":21,"Demand":70},{"Month":21,"Demand":66},{"Month":21,"Demand":62},{"Month":21,"Demand":58},{"Month":21,"Demand":54},{"Month":21,"Demand":50},{"Month":21,"Demand":46},{"Month":21,"Demand":42},{"Month":21,"Demand":38},{"Month":21,"Demand":34},{"Month":21,"Demand":30},{"Month":21,"Demand":26},{"Month":21,"Demand":22},{"Month":21,"Demand":18},{"Month":21,"Demand":14},{"Month":21,"Demand":10},{"Month":21,"Demand":6},{"Month":21,"Demand":3},{"Month":21,"Demand":1},{"Month":21,"Demand":0},
{"Month":22,"Demand":418},{"Month":22,"Demand":290},{"Month":22,"Demand":261},{"Month":22,"Demand":249},{"Month":22,"Demand":231},{"Month":22,"Demand":202},{"Month":22,"Demand":174},{"Month":22,"Demand":168},{"Month":22,"Demand":161},{"Month":22,"Demand":145},{"Month":22,"Demand":132},{"Month":22,"Demand":127},{"Month":22,"Demand":122},{"Month":22,"Demand":117},{"Month":22,"Demand":112},{"Month":22,"Demand":107},{"Month":22,"Demand":102},{"Month":22,"Demand":97},{"Month":22,"Demand":92},{"Month":22,"Demand":87},{"Month":22,"Demand":82},{"Month":22,"Demand":77},{"Month":22,"Demand":72},{"Month":22,"Demand":67},{"Month":22,"Demand":62},{"Month":22,"Demand":57},{"Month":22,"Demand":52},{"Month":22,"Demand":47},{"Month":22,"Demand":42},{"Month":22,"Demand":37},{"Month":22,"Demand":32},{"Month":22,"Demand":27},{"Month":22,"Demand":22},{"Month":22,"Demand":17},{"Month":22,"Demand":13},{"Month":22,"Demand":9},{"Month":22,"Demand":5},{"Month":22,"Demand":2},{"Month":22,"Demand":0},
{"Month":23,"Demand":510},{"Month":23,"Demand":329},{"Month":23,"Demand":315},{"Month":23,"Demand":279},{"Month":23,"Demand":261},{"Month":23,"Demand":239},{"Month":23,"Demand":218},{"Month":23,"Demand":207},{"Month":23,"Demand":195},{"Month":23,"Demand":186},{"Month":23,"Demand":171},{"Month":23,"Demand":157},{"Month":23,"Demand":153},{"Month":23,"Demand":149},{"Month":23,"Demand":145},{"Month":23,"Demand":141},{"Month":23,"Demand":137},{"Month":23,"Demand":133},{"Month":23,"Demand":129},{"Month":23,"Demand":125},{"Month":23,"Demand":121},{"Month":23,"Demand":117},{"Month":23,"Demand":113},{"Month":23,"Demand":109},{"Month":23,"Demand":105},{"Month":23,"Demand":100},{"Month":23,"Demand":95},{"Month":23,"Demand":90},{"Month":23,"Demand":85},{"Month":23,"Demand":80},{"Month":23,"Demand":75},{"Month":23,"Demand":70},{"Month":23,"Demand":65},{"Month":23,"Demand":60},{"Month":23,"Demand":55},{"Month":23,"Demand":50},{"Month":23,"Demand":45},{"Month":23,"Demand":40},{"Month":23,"Demand":35},{"Month":23,"Demand":30},{"Month":23,"Demand":25},{"Month":23,"Demand":20},{"Month":23,"Demand":15},{"Month":23,"Demand":10},{"Month":23,"Demand":6},{"Month":23,"Demand":3},{"Month":23,"Demand":1},{"Month":23,"Demand":0},
{"Month":24,"Demand":480},{"Month":24,"Demand":425},{"Month":24,"Demand":325},{"Month":24,"Demand":318},{"Month":24,"Demand":280},{"Month":24,"Demand":261},{"Month":24,"Demand":209},{"Month":24,"Demand":201},{"Month":24,"Demand":192},{"Month":24,"Demand":174},{"Month":24,"Demand":167},{"Month":24,"Demand":146},{"Month":24,"Demand":138},{"Month":24,"Demand":126},{"Month":24,"Demand":115},{"Month":24,"Demand":111},{"Month":24,"Demand":107},{"Month":24,"Demand":103},{"Month":24,"Demand":99},{"Month":24,"Demand":95},{"Month":24,"Demand":91},{"Month":24,"Demand":87},{"Month":24,"Demand":83},{"Month":24,"Demand":79},{"Month":24,"Demand":75},{"Month":24,"Demand":71},{"Month":24,"Demand":67},{"Month":24,"Demand":63},{"Month":24,"Demand":59},{"Month":24,"Demand":55},{"Month":24,"Demand":51},{"Month":24,"Demand":47},{"Month":24,"Demand":43},{"Month":24,"Demand":39},{"Month":24,"Demand":35},{"Month":24,"Demand":31},{"Month":24,"Demand":27},{"Month":24,"Demand":23},{"Month":24,"Demand":19},{"Month":24,"Demand":15},{"Month":24,"Demand":11},{"Month":24,"Demand":7},{"Month":24,"Demand":4},{"Month":24,"Demand":2},{"Month":24,"Demand":0},
{"Month":25,"Demand":250},{"Month":25,"Demand":78},{"Month":25,"Demand":55},{"Month":25,"Demand":42},{"Month":25,"Demand":36},{"Month":25,"Demand":32},{"Month":25,"Demand":28},{"Month":25,"Demand":24},{"Month":25,"Demand":20},{"Month":25,"Demand":16},{"Month":25,"Demand":12},{"Month":25,"Demand":8},{"Month":25,"Demand":5},{"Month":25,"Demand":2},{"Month":25,"Demand":0},
{"Month":26,"Demand":191},{"Month":26,"Demand":143},{"Month":26,"Demand":122},{"Month":26,"Demand":95},{"Month":26,"Demand":65},{"Month":26,"Demand":42},{"Month":26,"Demand":38},{"Month":26,"Demand":34},{"Month":26,"Demand":30},{"Month":26,"Demand":26},{"Month":26,"Demand":22},{"Month":26,"Demand":18},{"Month":26,"Demand":14},{"Month":26,"Demand":10},{"Month":26,"Demand":6},{"Month":26,"Demand":3},{"Month":26,"Demand":1},{"Month":26,"Demand":0},
{"Month":27,"Demand":490},{"Month":27,"Demand":484},{"Month":27,"Demand":462},{"Month":27,"Demand":452},{"Month":27,"Demand":438},{"Month":27,"Demand":341},{"Month":27,"Demand":330},{"Month":27,"Demand":294},{"Month":27,"Demand":280},{"Month":27,"Demand":272},{"Month":27,"Demand":266},{"Month":27,"Demand":260},{"Month":27,"Demand":254},{"Month":27,"Demand":248},{"Month":27,"Demand":243},{"Month":27,"Demand":200},{"Month":27,"Demand":180},{"Month":27,"Demand":175},{"Month":27,"Demand":171},{"Month":27,"Demand":159},{"Month":27,"Demand":148},{"Month":27,"Demand":144},{"Month":27,"Demand":140},{"Month":27,"Demand":136},{"Month":27,"Demand":132},{"Month":27,"Demand":128},{"Month":27,"Demand":124},{"Month":27,"Demand":120},{"Month":27,"Demand":116},{"Month":27,"Demand":112},{"Month":27,"Demand":108},{"Month":27,"Demand":104},{"Month":27,"Demand":100},{"Month":27,"Demand":96},{"Month":27,"Demand":92},{"Month":27,"Demand":88},{"Month":27,"Demand":84},{"Month":27,"Demand":80},{"Month":27,"Demand":76},{"Month":27,"Demand":72},{"Month":27,"Demand":68},{"Month":27,"Demand":64},{"Month":27,"Demand":60},{"Month":27,"Demand":56},{"Month":27,"Demand":52},{"Month":27,"Demand":48},{"Month":27,"Demand":44},{"Month":27,"Demand":40},{"Month":27,"Demand":36},{"Month":27,"Demand":32},{"Month":27,"Demand":28},{"Month":27,"Demand":24},{"Month":27,"Demand":20},{"Month":27,"Demand":16},{"Month":27,"Demand":12},{"Month":27,"Demand":8},{"Month":27,"Demand":5},{"Month":27,"Demand":2},{"Month":27,"Demand":0},
{"Month":28,"Demand":556},{"Month":28,"Demand":492},{"Month":28,"Demand":462},{"Month":28,"Demand":452},{"Month":28,"Demand":442},{"Month":28,"Demand":422},{"Month":28,"Demand":394},{"Month":28,"Demand":361},{"Month":28,"Demand":345},{"Month":28,"Demand":316},{"Month":28,"Demand":306},{"Month":28,"Demand":297},{"Month":28,"Demand":272},{"Month":28,"Demand":261},{"Month":28,"Demand":257},{"Month":28,"Demand":228},{"Month":28,"Demand":222},{"Month":28,"Demand":216},{"Month":28,"Demand":210},{"Month":28,"Demand":204},{"Month":28,"Demand":198},{"Month":28,"Demand":192},{"Month":28,"Demand":186},{"Month":28,"Demand":180},{"Month":28,"Demand":174},{"Month":28,"Demand":168},{"Month":28,"Demand":162},{"Month":28,"Demand":156},{"Month":28,"Demand":150},{"Month":28,"Demand":144},{"Month":28,"Demand":138},{"Month":28,"Demand":132},{"Month":28,"Demand":126},{"Month":28,"Demand":120},{"Month":28,"Demand":114},{"Month":28,"Demand":108},{"Month":28,"Demand":102},{"Month":28,"Demand":96},{"Month":28,"Demand":90},{"Month":28,"Demand":84},{"Month":28,"Demand":78},{"Month":28,"Demand":72},{"Month":28,"Demand":66},{"Month":28,"Demand":60},{"Month":28,"Demand":54},{"Month":28,"Demand":48},{"Month":28,"Demand":42},{"Month":28,"Demand":36},{"Month":28,"Demand":30},{"Month":28,"Demand":24},{"Month":28,"Demand":18},{"Month":28,"Demand":12},{"Month":28,"Demand":7},{"Month":28,"Demand":3},{"Month":28,"Demand":1},{"Month":28,"Demand":0},
{"Month":29,"Demand":526},{"Month":29,"Demand":515},{"Month":29,"Demand":492},{"Month":29,"Demand":422},{"Month":29,"Demand":382},{"Month":29,"Demand":371},{"Month":29,"Demand":365},{"Month":29,"Demand":360},{"Month":29,"Demand":354},{"Month":29,"Demand":344},{"Month":29,"Demand":312},{"Month":29,"Demand":299},{"Month":29,"Demand":289},{"Month":29,"Demand":274},{"Month":29,"Demand":262},{"Month":29,"Demand":200},{"Month":29,"Demand":174},{"Month":29,"Demand":159},{"Month":29,"Demand":146},{"Month":29,"Demand":136},{"Month":29,"Demand":131},{"Month":29,"Demand":126},{"Month":29,"Demand":121},{"Month":29,"Demand":116},{"Month":29,"Demand":111},{"Month":29,"Demand":106},{"Month":29,"Demand":101},{"Month":29,"Demand":96},{"Month":29,"Demand":91},{"Month":29,"Demand":86},{"Month":29,"Demand":81},{"Month":29,"Demand":76},{"Month":29,"Demand":71},{"Month":29,"Demand":66},{"Month":29,"Demand":61},{"Month":29,"Demand":56},{"Month":29,"Demand":51},{"Month":29,"Demand":46},{"Month":29,"Demand":41},{"Month":29,"Demand":36},{"Month":29,"Demand":31},{"Month":29,"Demand":26},{"Month":29,"Demand":21},{"Month":29,"Demand":16},{"Month":29,"Demand":11},{"Month":29,"Demand":7},{"Month":29,"Demand":4},{"Month":29,"Demand":2},{"Month":29,"Demand":0},
{"Month":30,"Demand":580},{"Month":30,"Demand":415},{"Month":30,"Demand":408},{"Month":30,"Demand":402},{"Month":30,"Demand":396},{"Month":30,"Demand":390},{"Month":30,"Demand":384},{"Month":30,"Demand":379},{"Month":30,"Demand":356},{"Month":30,"Demand":308},{"Month":30,"Demand":302},{"Month":30,"Demand":297},{"Month":30,"Demand":291},{"Month":30,"Demand":280},{"Month":30,"Demand":261},{"Month":30,"Demand":253},{"Month":30,"Demand":228},{"Month":30,"Demand":220},{"Month":30,"Demand":211},{"Month":30,"Demand":197},{"Month":30,"Demand":192},{"Month":30,"Demand":187},{"Month":30,"Demand":182},{"Month":30,"Demand":177},{"Month":30,"Demand":172},{"Month":30,"Demand":167},{"Month":30,"Demand":162},{"Month":30,"Demand":157},{"Month":30,"Demand":152},{"Month":30,"Demand":147},{"Month":30,"Demand":142},{"Month":30,"Demand":137},{"Month":30,"Demand":132},{"Month":30,"Demand":127},{"Month":30,"Demand":122},{"Month":30,"Demand":117},{"Month":30,"Demand":112},{"Month":30,"Demand":107},{"Month":30,"Demand":102},{"Month":30,"Demand":97},{"Month":30,"Demand":92},{"Month":30,"Demand":87},{"Month":30,"Demand":82},{"Month":30,"Demand":77},{"Month":30,"Demand":72},{"Month":30,"Demand":67},{"Month":30,"Demand":62},{"Month":30,"Demand":57},{"Month":30,"Demand":52},{"Month":30,"Demand":47},{"Month":30,"Demand":42},{"Month":30,"Demand":37},{"Month":30,"Demand":32},{"Month":30,"Demand":27},{"Month":30,"Demand":22},{"Month":30,"Demand":17},{"Month":30,"Demand":12},{"Month":30,"Demand":8},{"Month":30,"Demand":4},{"Month":30,"Demand":2},{"Month":30,"Demand":0}
]
},
"hconcat": [
{
 "width": 1118, "height": 890,
 "data": {"name": "a"},
 "title": {"text": "(a)"},
 "mark": {"type": "point", "shape": "circle", "filled": true, "size": 145, "fill": "#0000ff", "stroke": "#00003a", "strokeWidth": 1, "opacity": 1},
 "encoding": {
  "x": {"field": "Month", "type": "quantitative", "scale": {"domain": [-0.65, 35.65], "nice": false, "zero": false}, "axis": {"values": [0,5,10,15,20,25,30,35], "title": "Month"}},
  "y": {"field": "Demand", "type": "quantitative", "scale": {"domain": [-2.88, 60], "nice": false, "zero": false}, "axis": {"values": [0,10,20,30,40,50,60], "title": "Demand"}}
 }
},
{
 "spacing": 0,
 "vconcat": [
  {
   "width": 1118, "height": 9,
   "view": {"stroke": null},
   "data": {"values": []},
   "mark": {"type": "text", "text": ""},
   "encoding": {}
  },
  {
   "width": 1118, "height": 889,
   "data": {"name": "b"},
   "title": {"text": "(b)"},
   "mark": {"type": "point", "shape": "circle", "filled": true, "size": 145, "fill": "#0000ff", "stroke": "#00003a", "strokeWidth": 1, "opacity": 1},
   "encoding": {
    "x": {"field": "Month", "type": "quantitative", "scale": {"domain": [-0.45, 31.45], "nice": false, "zero": false}, "axis": {"values": [0,5,10,15,20,25,30], "title": "Month"}},
    "y": {"field": "Demand", "type": "quantitative", "scale": {"domain": [-29.5, 619.5], "nice": false, "zero": false}, "axis": {"values": [0,100,200,300,400,500,600], "title": "Demand"}}
   }
  }
 ]
}
]
}
